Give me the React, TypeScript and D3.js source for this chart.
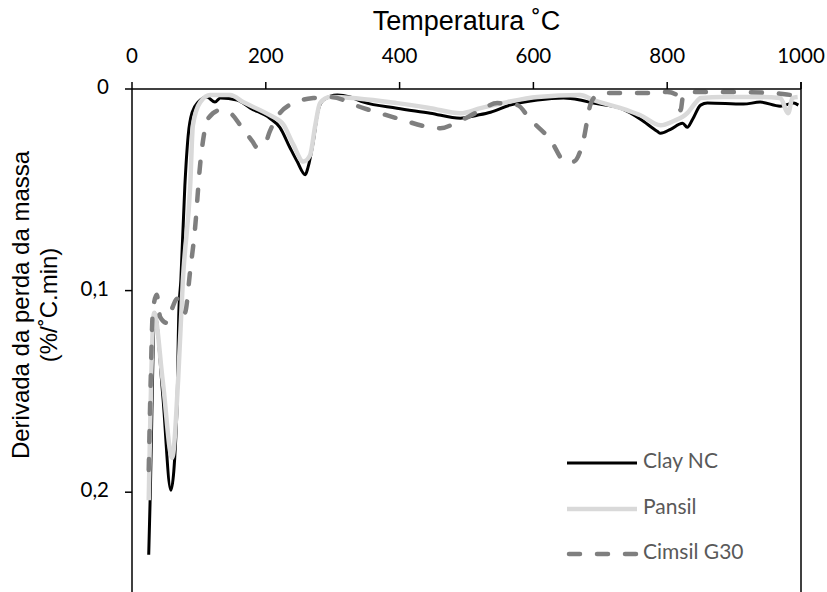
import React, { useEffect } from "react"
import * as d3 from "d3"

// ── Data ──────────────────────────────────────────────────────────────────────

const xTicks = [0, 200, 400, 600, 800, 1000]
const yTicks = [0, 0.1, 0.2]

// [temperature °C, derivative %/°C.min]
const clayNC: [number, number][] = [
  [25, 0.231], [27, 0.205], [34, 0.111], [46, 0.152], [58, 0.199], [67, 0.161],
  [70, 0.111], [73, 0.095], [79, 0.048], [84, 0.023], [90, 0.0115], [99, 0.0065],
  [112, 0.004], [124, 0.0065], [132, 0.0045], [157, 0.0055], [177, 0.0095],
  [206, 0.0145], [221, 0.019], [236, 0.029], [247, 0.036], [259, 0.0425],
  [263, 0.039], [271, 0.026], [278, 0.011], [286, 0.0055], [307, 0.003],
  [326, 0.004], [346, 0.0065], [396, 0.0095], [446, 0.012], [491, 0.0145],
  [516, 0.013], [536, 0.0115], [565, 0.008], [606, 0.0055], [645, 0.0045],
  [670, 0.0055], [690, 0.007], [730, 0.0095], [760, 0.015], [785, 0.021],
  [790, 0.022], [805, 0.02], [823, 0.017], [830, 0.019], [838, 0.015],
  [850, 0.008], [860, 0.007], [914, 0.0075], [939, 0.0065], [969, 0.0085],
  [989, 0.007], [996, 0.008],
]

const pansil: [number, number][] = [
  [25, 0.204], [33, 0.111], [46, 0.145], [60, 0.183], [69, 0.144], [76, 0.095],
  [87, 0.048], [91, 0.018], [102, 0.0065], [117, 0.003], [147, 0.003],
  [166, 0.0065], [206, 0.013], [226, 0.0175], [241, 0.0275], [256, 0.036],
  [266, 0.033], [274, 0.018], [281, 0.007], [296, 0.004], [396, 0.007],
  [446, 0.0095], [491, 0.012], [521, 0.0095], [561, 0.0065], [606, 0.004],
  [670, 0.003], [690, 0.0055], [740, 0.0105], [760, 0.013], [790, 0.018],
  [809, 0.016], [830, 0.012], [842, 0.007], [850, 0.0045], [884, 0.004],
  [935, 0.004], [969, 0.0045], [981, 0.012], [987, 0.0045], [995, 0.004],
]

const cimsilG30: [number, number][] = [
  [25, 0.189], [28, 0.144], [31, 0.111], [37, 0.102], [42, 0.113], [52, 0.116],
  [61, 0.108], [67, 0.104], [79, 0.111], [87, 0.09], [94, 0.07], [102, 0.037],
  [106, 0.026], [114, 0.0145], [132, 0.0105], [147, 0.012], [162, 0.018],
  [180, 0.026], [187, 0.029], [199, 0.027], [206, 0.021], [221, 0.012],
  [241, 0.007], [271, 0.0045], [296, 0.004], [346, 0.0095], [396, 0.0145],
  [446, 0.019], [461, 0.0195], [486, 0.0165], [516, 0.0115], [546, 0.007],
  [576, 0.008], [595, 0.015], [625, 0.025], [648, 0.036], [660, 0.036],
  [675, 0.025], [685, 0.008], [690, 0.0045], [705, 0.002], [775, 0.002],
  [800, 0.0015], [815, 0.003], [820, 0.0105], [824, 0.003], [839, 0.0015],
  [884, 0.0015], [959, 0.002], [989, 0.003], [996, 0.002],
]

const seriesNames = ["Clay NC", "Pansil", "Cimsil G30"]

// ── Layout ────────────────────────────────────────────────────────────────────

const W = 827
const H = 592
const plot = { left: 132, right: 801, top: 89, bottom: 593 }

const x = d3.scaleLinear().domain([0, 1000]).range([plot.left, plot.right])
const y = d3.scaleLinear().domain([0, 0.25]).range([plot.top, plot.bottom])

const line = d3
  .line<[number, number]>()
  .x(d => x(d[0]))
  .y(d => y(d[1]))
  .curve(d3.curveMonotoneX)

const styles = [
  { stroke: "#000000", width: 3, dash: undefined as string | undefined, cap: "butt" },
  { stroke: "#d9d9d9", width: 4.5, dash: undefined as string | undefined, cap: "butt" },
  { stroke: "#7f7f7f", width: 4.5, dash: "11 17", cap: "round" },
]

const fmt = (v: number) => (v === 0 ? "0" : String(v).replace(".", ","))

export default function App() {
  useEffect(() => {
    document.body.style.margin = "0"
  }, [])

  const data = [clayNC, pansil, cimsilG30]
  const legendY = [463, 509, 554]
  const tickFont = "Lato, 'Open Sans', sans-serif"
  const titleFont = "'Liberation Sans', Arial, sans-serif"

  return (
    <svg width={W} height={H} style={{ display: "block", background: "#fff" }}>
      <defs>
        <clipPath id="plot-clip">
          <rect
            x={plot.left}
            y={plot.top - 4}
            width={plot.right - plot.left}
            height={plot.bottom - plot.top + 4}
          />
        </clipPath>
      </defs>

      {/* Title */}
      <text
        x={(plot.left + plot.right) / 2}
        y={23}
        textAnchor="middle"
        dominantBaseline="middle"
        fontFamily={titleFont}
        fontSize={27}
        fill="#000"
      >
        Temperatura ˚C
      </text>

      {/* X ticks (top) */}
      {xTicks.map(t => (
        <g key={t}>
          <line x1={x(t)} x2={x(t)} y1={plot.top} y2={plot.top - 7} stroke="#000" strokeWidth={1.5} />
          <text
            x={x(t)}
            y={58}
            textAnchor="middle"
            dominantBaseline="middle"
            fontFamily={tickFont}
            fontSize={20.5}
            fill="#000"
          >
            {t}
          </text>
        </g>
      ))}

      {/* Y ticks */}
      {yTicks.map(t => (
        <g key={t}>
          <line x1={plot.left} x2={plot.left - 7} y1={y(t)} y2={y(t)} stroke="#000" strokeWidth={1.5} />
          <text
            x={plot.left - 23}
            y={y(t)}
            textAnchor="end"
            dominantBaseline="middle"
            fontFamily={tickFont}
            fontSize={20.5}
            fill="#000"
          >
            {fmt(t)}
          </text>
        </g>
      ))}

      {/* Y label */}
      <g transform="translate(0,305) rotate(-90)">
        <text x={0} y={23} textAnchor="middle" dominantBaseline="middle" fontFamily={titleFont} fontSize={24}>
          Derivada da perda da massa
        </text>
        <text x={0} y={51} textAnchor="middle" dominantBaseline="middle" fontFamily={titleFont} fontSize={24}>
          (%/˚C.min)
        </text>
      </g>

      {/* Series */}
      <g clipPath="url(#plot-clip)">
        {data.map((d, i) => (
          <path
            key={seriesNames[i]}
            d={line(d) ?? ""}
            fill="none"
            stroke={styles[i].stroke}
            strokeWidth={styles[i].width}
            strokeDasharray={styles[i].dash}
            strokeLinecap={styles[i].cap as any}
            strokeLinejoin="round"
          />
        ))}
      </g>

      {/* Frame */}
      <line x1={plot.left} x2={plot.right} y1={plot.top} y2={plot.top} stroke="#000" strokeWidth={1.5} />
      <line x1={plot.left} x2={plot.left} y1={plot.top} y2={H} stroke="#000" strokeWidth={1.5} />
      <line x1={plot.right} x2={plot.right} y1={plot.top - 7} y2={H} stroke="#000" strokeWidth={1.5} />

      {/* Legend */}
      {seriesNames.map((name, i) => (
        <g key={name}>
          <line
            x1={567}
            x2={637}
            y1={legendY[i]}
            y2={legendY[i]}
            stroke={styles[i].stroke}
            strokeWidth={styles[i].width}
            strokeDasharray={styles[i].dash}
            strokeLinecap={styles[i].cap as any}
            transform={styles[i].dash ? "translate(2,0)" : undefined}
          />
          <text
            x={643}
            y={legendY[i]}
            dominantBaseline="middle"
            fontFamily={tickFont}
            fontSize={21}
            fill="#595959"
          >
            {name}
          </text>
        </g>
      ))}
    </svg>
  )
}
